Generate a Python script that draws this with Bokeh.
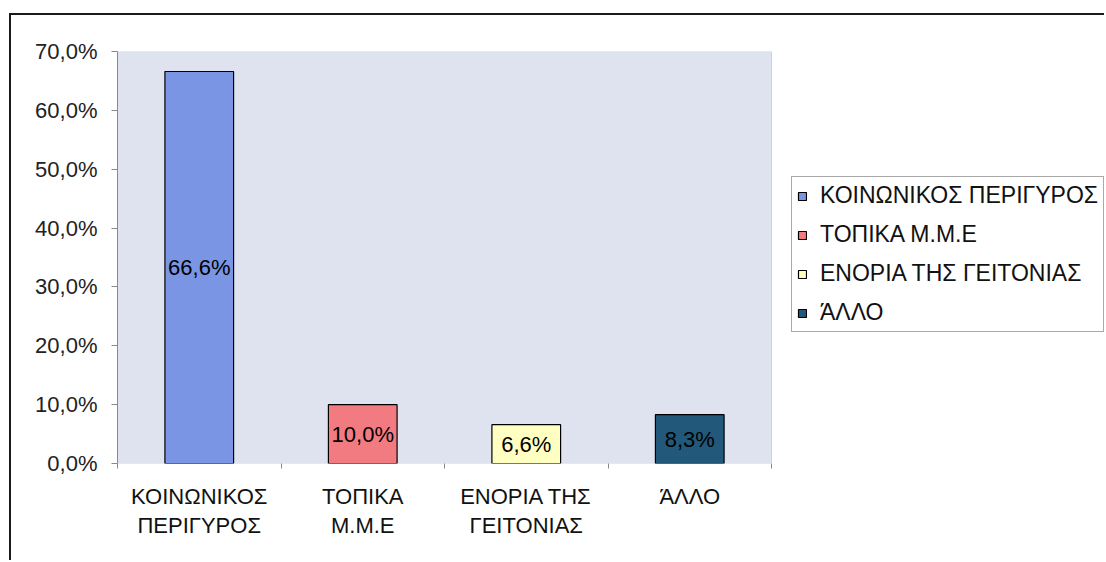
from bokeh.plotting import figure
from bokeh.models import ColumnDataSource, FixedTicker, Legend, LegendItem, BoxAnnotation
from bokeh.core.properties import value
from bokeh.embed import file_html
from bokeh.resources import INLINE

categories = ["ΚΟΙΝΩΝΙΚΟΣ ΠΕΡΙΓΥΡΟΣ", "ΤΟΠΙΚΑ Μ.Μ.Ε", "ΕΝΟΡΙΑ ΤΗΣ ΓΕΙΤΟΝΙΑΣ", "ΆΛΛΟ"]
axis_labels = ["ΚΟΙΝΩΝΙΚΟΣ\nΠΕΡΙΓΥΡΟΣ", "ΤΟΠΙΚΑ\nΜ.Μ.Ε", "ΕΝΟΡΙΑ ΤΗΣ\nΓΕΙΤΟΝΙΑΣ", "ΆΛΛΟ"]
values = [66.6, 10.0, 6.6, 8.3]
colors = ["#7a95e3", "#f27b82", "#ffffc2", "#22597a"]
y_ticks = [0, 10, 20, 30, 40, 50, 60, 70]
y_tick_labels = ["0,0%", "10,0%", "20,0%", "30,0%", "40,0%", "50,0%", "60,0%", "70,0%"]

xs = list(range(1, len(categories) + 1))
src = ColumnDataSource(dict(
    x=xs, top=values, color=colors, cat=categories,
    mid=[v / 2 for v in values],
    lab=[("%.1f%%" % v).replace(".", ",") for v in values],
))

FONT = "Liberation Sans"

# layout (pixels)
W, H = 1095, 547
LEFT, TOP, BOTTOM = 106, 36, 99
AREA_W = 654  # width of the grey plotting area
frame_w = W - LEFT
x_start = 0.5
x_area_end = len(categories) + 0.5
x_end = x_start + (x_area_end - x_start) * frame_w / AREA_W
y_max = y_ticks[-1]

p = figure(width=W, height=H, output_backend="svg", toolbar_location=None,
           x_range=(x_start, x_end), y_range=(0, y_max),
           min_border_left=LEFT, min_border_top=TOP, min_border_right=0, min_border_bottom=BOTTOM)
p.margin = (13, 0, 0, 9)
p.styles = {"border-top": "2px solid #1a1a1a", "border-left": "2px solid #1a1a1a"}

p.background_fill_color = "white"
p.border_fill_color = "white"
p.outline_line_color = None
p.xgrid.visible = False
p.ygrid.visible = False

area = BoxAnnotation(left=x_start, right=x_area_end, bottom=0, top=y_max,
                     fill_color="#dfe2ef", fill_alpha=1,
                     line_color="#8a8fa0", line_width=1, level="underlay")
p.add_layout(area)

r = p.vbar(x="x", top="top", width=0.42, bottom=0, fill_color="color",
           line_color="black", line_width=1.2, source=src)
p.text(x="x", y="mid", text="lab", source=src, text_align="center",
       text_baseline="middle", text_font=value(FONT), text_font_size="22px",
       text_color="black")

# y axis
ya = p.yaxis[0]
ya.ticker = FixedTicker(ticks=y_ticks)
ya.major_label_overrides = {t: l for t, l in zip(y_ticks, y_tick_labels)}
ya.major_label_text_font = FONT
ya.major_label_text_font_size = "22px"
ya.major_label_text_color = "#222222"
ya.axis_line_color = "#8a8a8a"
ya.major_tick_line_color = "#8a8a8a"
ya.major_tick_out = 6
ya.major_tick_in = 0
ya.minor_tick_line_color = None
ya.major_label_standoff = 14

# x axis (line drawn by the grey area border)
xa = p.xaxis[0]
xa.ticker = FixedTicker(ticks=xs, minor_ticks=[x - 0.5 for x in xs] + [xs[-1] + 0.5])
xa.major_label_overrides = {x: l for x, l in zip(xs, axis_labels)}
xa.major_label_text_font = FONT
xa.major_label_text_font_size = "22px"
xa.major_label_text_color = "#111111"
xa.major_label_text_line_height = 1.16
xa.axis_line_color = None
xa.major_tick_line_color = None
xa.major_tick_out = 0
xa.major_tick_in = 0
xa.minor_tick_line_color = "#8a8a8a"
xa.minor_tick_out = 5
xa.minor_tick_in = 0
xa.major_label_standoff = 15

items = [LegendItem(label=c, renderers=[r], index=i) for i, c in enumerate(categories)]
legend = Legend(items=items, location=(674, 131), orientation="vertical",
                glyph_width=10, glyph_height=10, label_standoff=13,
                label_height=20, spacing=12, padding=5, margin=0,
                label_text_font=FONT, label_text_font_size="23px",
                label_text_color="#111111",
                border_line_color="#555555", border_line_width=1,
                background_fill_color="white", background_fill_alpha=1)
p.add_layout(legend, "center")

open("out.html", "w").write(file_html(p, INLINE))
